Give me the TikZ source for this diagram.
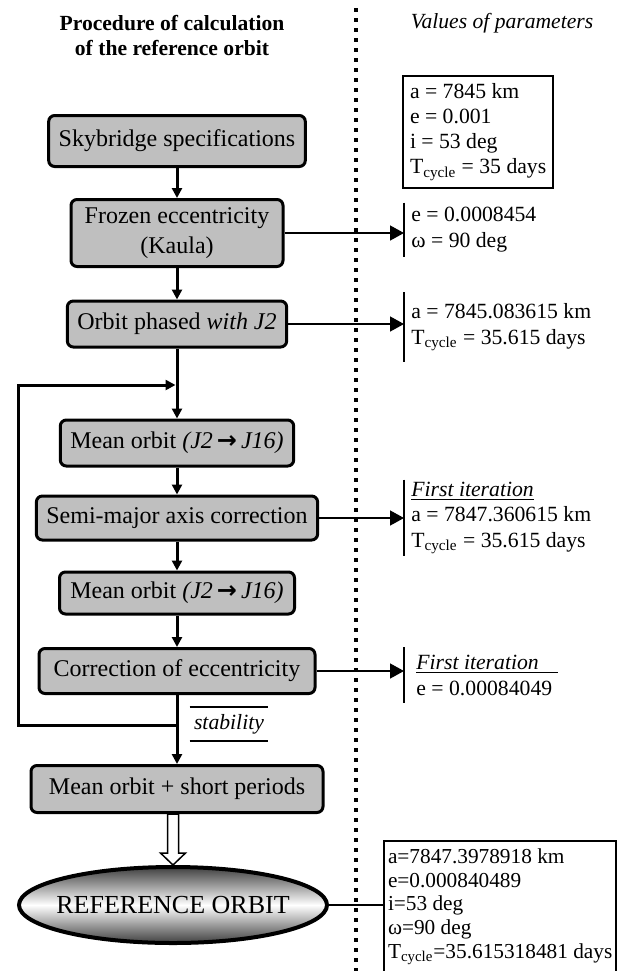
\documentclass[tikz,border=0pt]{standalone}
\usepackage{fontspec}
\setmainfont{Liberation Serif}
\newfontfamily\arrowfont{DejaVu Sans}
\usetikzlibrary{arrows.meta,shapes.geometric,calc}

\begin{document}
\begin{tikzpicture}[x=0.5pt,y=-0.5pt,
        stepbox/.style={draw,line width=1.5pt,rounded corners=3pt,fill=gray!50,inner xsep=5pt,inner ysep=4pt,minimum height=23pt,align=center,font=\fontsize{12}{15}\selectfont},
        flow/.style={line width=1.5pt,-{Triangle[length=5pt,width=5pt]}},
        valarrow/.style={line width=0.75pt,-{Triangle[length=7pt,width=7.5pt]}},
        vals/.style={anchor=west,align=left,inner xsep=3.5pt,inner ysep=1pt,font=\fontsize{10.85}{13}\selectfont},
        framed/.style={draw,line width=1pt,anchor=north west,align=left}]
        \clip (0,0) rectangle (626,971);
        \node[font=\bfseries\fontsize{10.8}{12.5}\selectfont,align=center] (proc) at (172,35) {Procedure of calculation\\of the reference orbit};
        \node[font=\itshape\fontsize{10.8}{13}\selectfont] (valtitle) at (502,23) {Values of parameters};
        \coordinate (septop) at (356,8);
        \coordinate (sepbot) at (356,975);
        \draw[line width=2pt,dash pattern=on 2pt off 3pt] (septop) -- (sepbot);
        \node[framed,inner xsep=3.5pt,inner ysep=3.5pt,minimum width=75pt,font=\fontsize{10.85}{12.65}\selectfont] (spec) at (402,75) {a = 7845 km\\e = 0.001\\i = 53 deg\\T\textsubscript{cycle} = 35 days};
        \node[stepbox,minimum width=126pt,minimum height=25.5pt] (sky) at (177,141) {Skybridge specifications};
        \node[stepbox,minimum width=106pt] (frozen) at (177,233) {Frozen eccentricity\\(Kaula)};
        \node[stepbox,minimum width=107pt] (phased) at (177,324) {Orbit phased \textit{with J2}};
        \node[stepbox,minimum width=115pt] (mean1) at (177,443) {Mean orbit \textit{(J2\,{\arrowfont\bfseries →}\,J16)}};
        \node[stepbox,minimum width=139.5pt,minimum height=22pt] (semi) at (177,518) {Semi-major axis correction};
        \node[stepbox,minimum width=117.5pt,minimum height=21pt] (mean2) at (177,593) {Mean orbit \textit{(J2\,{\arrowfont\bfseries →}\,J16)}};
        \node[stepbox,minimum width=138pt,minimum height=22.5pt] (corr) at (177,671) {Correction of eccentricity};
        \node[stepbox,minimum width=146pt,minimum height=23.5pt] (mshort) at (177,789) {Mean orbit + short periods};
        \node[draw,ellipse,line width=2pt,minimum width=154pt,minimum height=38pt,top color=black!75,bottom color=black!75,middle color=white,label={[font=\fontsize{13}{15}\selectfont]center:REFERENCE ORBIT}] (reforbit) at (173,905) {};
        \node[vals,minimum height=27pt] (v1) at (404,230) {e = 0.0008454\\ω = 90 deg};
        \node[vals,minimum height=34.5pt] (v2) at (404,327) {a = 7845.083615 km\\T\textsubscript{cycle} = 35.615 days};
        \node[vals,minimum height=35pt,font=\fontsize{10.85}{12.75}\selectfont] (v3) at (404,518) {\underline{\textit{First iteration}}\\a = 7847.360615 km\\T\textsubscript{cycle} = 35.615 days};
        \node[vals,minimum height=27.5pt,inner xsep=6pt] (v4) at (404,675) {\underline{\makebox[71pt][l]{\textit{First iteration}}}\\e = 0.00084049};
        \node[framed,inner xsep=2pt,inner ysep=4pt,font=\fontsize{10.65}{11.8}\selectfont] (final) at (383,840) {a=7847.3978918 km\\e=0.000840489\\i=53 deg\\ω=90 deg\\T\textsubscript{cycle}=35.615318481 days\rule[-14pt]{0pt}{0pt}};
        \node[font=\itshape\fontsize{10.85}{13}\selectfont,inner xsep=2pt,minimum height=14pt] (stab) at (229,724) {stability};
        \draw[line width=1pt] (stab.north west) -- (stab.north east) (stab.south west) -- (stab.south east);
        \foreach \a/\b in {sky/frozen,frozen/phased,phased/mean1,mean1/semi,semi/mean2,mean2/corr,corr/mshort}
            \draw[flow] (\a) -- (\b);
        \coordinate (looptop) at (177,385);
        \coordinate (loopbot) at (177,725);
        \coordinate (loopleft) at (18,725);
        \draw[flow,shorten >=0.75pt] (loopbot) -- (loopleft) |- (looptop);
        \foreach \v in {v1,v2,v3,v4}
            \draw[line width=0.75pt] (\v.north west) -- (\v.south west);
        \draw[valarrow] (frozen) -- (frozen -| v1.west);
        \draw[valarrow] (phased) -- (phased -| v2.west);
        \draw[valarrow] (semi) -- (semi -| v3.west);
        \draw[valarrow] (corr) -- (corr -| v4.west);
        \draw[line width=0.75pt,fill=white] (reforbit.north) -- ++(-12.5,-12) -- ++(7,0) -- ($(mshort.south -| reforbit.north)+(-5.5,0)$) -- ++(11,0) -- ($(reforbit.north)+(5.5,-12)$) -- ++(7,0) -- cycle;
        \draw[line width=0.75pt] (reforbit) -- (reforbit -| final.west);
    \end{tikzpicture}
\end{document}
